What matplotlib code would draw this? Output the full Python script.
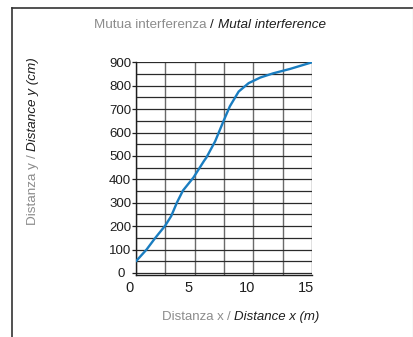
import matplotlib
matplotlib.use("Agg")
import matplotlib.pyplot as plt
from matplotlib.lines import Line2D
import matplotlib.transforms as mtransforms

FONT = ["Liberation Sans Narrow", "Liberation Sans", "DejaVu Sans"]
plt.rcParams["font.family"] = FONT

# Curve: distance y (cm) versus distance x (m)
dist_x = [0, 0.9, 1.6, 2.5, 3.0, 3.5, 4.0, 4.9, 5.8, 6.0, 6.75, 7.45, 8.0,
          8.75, 9.6, 10.6, 11.7, 13.15, 15]
dist_y = [50, 100, 147, 203, 243, 302, 352, 408, 479, 493, 563, 648, 712,
          775, 811, 835, 853, 872, 900]

x_ticks = [0, 5, 10, 15]
y_ticks = list(range(0, 1000, 100))

title_it = "Mutua interferenza"
title_en = "Mutal interference"
xlabel_it = "Distanza x"
xlabel_en = "Distance x (m)"
ylabel_it = "Distanza y"
ylabel_en = "Distance y (cm)"

GRAY = "#8c8c8c"
DARK = "#1e1e1e"
BLUE = "#1a7dc0"

W, H = 414, 337
fig = plt.figure(figsize=(W / 100, H / 100), dpi=100)
fig.patch.set_facecolor("white")

# Outer frame
fig.add_artist(Line2D([12.5 / W, 12.5 / W], [0, 1 - 7.5 / H], color="#333333", lw=1.2,
                      transform=fig.transFigure))
fig.add_artist(Line2D([12.5 / W, 1], [1 - 7.5 / H, 1 - 7.5 / H], color="#333333", lw=1.2,
                      transform=fig.transFigure))
fig.add_artist(Line2D([413 / W, 413 / W], [0, 1 - 7.5 / H], color="#dddddd", lw=1.0,
                      transform=fig.transFigure))

ax = fig.add_axes([136 / W, 1 - 275.3 / H, 176 / W, (275.3 - 62.3) / H])
ax.set_xlim(0, 15)
ax.set_ylim(-10, 900)

# Grid
for gx in [2.5 * i for i in range(7)]:
    ax.axvline(gx, color="#6a6a6a", lw=1.0, zorder=1)
for gy in range(0, 950, 50):
    ax.axhline(gy, color="#2a2a2a", lw=0.9, zorder=1)

ax.plot(dist_x, dist_y, color=BLUE, lw=1.7, zorder=3, solid_capstyle="round")

for s in ax.spines.values():
    s.set_visible(False)
ax.spines["left"].set_visible(True)
ax.spines["bottom"].set_visible(True)
ax.spines["left"].set_color(DARK)
ax.spines["bottom"].set_color(DARK)
ax.spines["left"].set_linewidth(1.0)
ax.spines["bottom"].set_linewidth(1.0)

ax.set_yticks(y_ticks)
ax.set_yticklabels([str(v) for v in y_ticks])
ax.set_xticks(x_ticks)
ax.set_xticklabels([str(v) for v in x_ticks])
ax.tick_params(axis="y", length=3.2, width=0.9, color=DARK, pad=0.2, labelsize=9.5,
               labelcolor=DARK)
ax.tick_params(axis="x", length=0, pad=4, labelsize=10.5, labelcolor=DARK)
shift = mtransforms.ScaledTranslation(-6 / 100, 0, fig.dpi_scale_trans)
for lab in ax.get_xticklabels():
    lab.set_transform(lab.get_transform() + shift)
zero_shift = mtransforms.ScaledTranslation(-6 / 100, 0, fig.dpi_scale_trans)
ylabs = ax.get_yticklabels()
ylabs[0].set_transform(ylabs[0].get_transform() + zero_shift)

fig.canvas.draw()
renderer = fig.canvas.get_renderer()


def chain_h(cx, cy, parts, size):
    """Place text pieces side by side, centred as a whole on (cx, cy) in pixels."""
    objs = []
    for txt, color, style in parts:
        t = fig.text(0, 0, txt, color=color, style=style, fontsize=size,
                     ha="left", va="center", transform=None)
        objs.append(t)
    widths = [o.get_window_extent(renderer).width for o in objs]
    x = cx - sum(widths) / 2
    for o, w in zip(objs, widths):
        o.set_position((x, H - cy))
        x += w


def chain_v(cx, cy, parts, size):
    """Place rotated text pieces bottom to top, centred on (cx, cy) in pixels."""
    objs = []
    for txt, color, style in parts:
        t = fig.text(0, 0, txt, color=color, style=style, fontsize=size,
                     ha="left", va="center", rotation=90, transform=None,
                     rotation_mode="anchor")
        objs.append(t)
    heights = [o.get_window_extent(renderer).height for o in objs]
    y = (H - cy) - sum(heights) / 2
    for o, h in zip(objs, heights):
        o.set_position((cx, y))
        y += h


chain_h(210, 25, [(title_it + " ", GRAY, "normal"), ("/ ", DARK, "normal"),
                  (title_en, DARK, "italic")], 9.7)
chain_h(240.5, 317, [(xlabel_it + " ", GRAY, "normal"), ("/ ", GRAY, "normal"),
                     (xlabel_en, DARK, "italic")], 9.5)
chain_v(33, 141, [(ylabel_it + " ", GRAY, "normal"), ("/ ", GRAY, "normal"),
                  (ylabel_en, DARK, "italic")], 9.7)

fig.savefig("out.png", dpi=100, facecolor="white")
